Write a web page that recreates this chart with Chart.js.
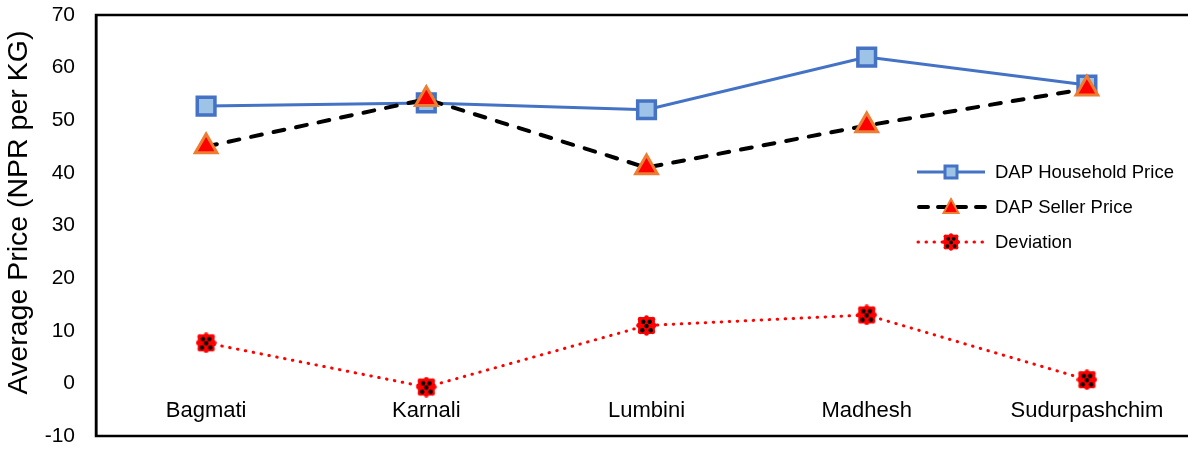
<!DOCTYPE html>
<html>
<head>
<meta charset="utf-8">
<script src="https://cdn.jsdelivr.net/npm/chart.js@4/dist/chart.umd.min.js"></script>
<style>
  html, body { margin: 0; padding: 0; background: #fff; overflow: hidden; }
  #wrap { width: 1188px; height: 449px; position: relative; overflow: hidden; }
  #c { display: block; }
</style>
</head>
<body>
<div id="wrap"><canvas id="c" width="1200" height="449"></canvas></div>
<script>
// Average DAP fertilizer prices by province (NPR per KG)
const provinces = ['Bagmati', 'Karnali', 'Lumbini', 'Madhesh', 'Sudurpashchim'];
const householdPrice = [52.7, 53.3, 52.0, 62.0, 56.7];
const sellerPrice = [45.0, 54.0, 41.0, 49.0, 56.0];
const deviation = [7.7, -0.7, 11.0, 13.0, 0.7];
const yTickValues = [-10, 0, 10, 20, 30, 40, 50, 60, 70];
const seriesNames = ['DAP Household Price', 'DAP Seller Price', 'Deviation'];
const yAxisTitle = 'Average Price (NPR per KG)';

const FONT = "'Liberation Sans', Arial, sans-serif";

// Red blotch with black dots used as the Deviation marker
function makeDeviationMarker(size) {
  const cv = document.createElement('canvas');
  cv.width = size; cv.height = size;
  const g = cv.getContext('2d');
  const s = size / 20;
  g.fillStyle = '#ff0000';
  g.beginPath();
  g.roundRect(2 * s, 2 * s, 16 * s, 16 * s, 4 * s);
  g.fill();
  const bumps = [[4,4],[10,2.5],[16,4],[17.5,10],[16,16],[10,17.5],[4,16],[2.5,10]];
  bumps.forEach(([x, y]) => { g.beginPath(); g.arc(x * s, y * s, 2.3 * s, 0, Math.PI * 2); g.fill(); });
  g.fillStyle = '#000';
  [[7,6.5],[13,6.5],[10,10.5],[6,14.5],[14,14.5]].forEach(([x, y]) => {
    g.beginPath(); g.arc(x * s, y * s, 2.1 * s, 0, Math.PI * 2); g.fill();
  });
  return cv;
}
const devMarker = makeDeviationMarker(21);
const devMarkerSmall = makeDeviationMarker(18);

// Plot-area frame (top, left, bottom; right edge sits past the visible page)
const framePlugin = {
  id: 'frame',
  beforeDatasetsDraw(chart) {
    const { ctx, chartArea: a } = chart;
    ctx.save();
    ctx.strokeStyle = '#000';
    ctx.lineWidth = 2.5;
    ctx.strokeRect(a.left, a.top, a.right - a.left, a.bottom - a.top);
    ctx.restore();
  }
};

// Rotated value-axis title, sitting a little above the plot's centre line
const axisTitlePlugin = {
  id: 'axisTitle',
  afterDraw(chart) {
    const { ctx, chartArea: a } = chart;
    ctx.save();
    ctx.translate(19, (a.top + a.bottom) / 2 - 13);
    ctx.rotate(-Math.PI / 2);
    ctx.fillStyle = '#000';
    ctx.font = '28.5px ' + FONT;
    ctx.textAlign = 'center';
    ctx.textBaseline = 'middle';
    ctx.fillText(yAxisTitle, 0, 0);
    ctx.restore();
  }
};

// Legend drawn inside the plot area
const insideLegend = {
  id: 'insideLegend',
  afterDraw(chart) {
    const { ctx } = chart;
    const x0 = 917, x1 = 985, xm = 951, tx = 995;
    const rows = [172, 207, 242];
    ctx.save();
    // Household
    let y = rows[0];
    ctx.strokeStyle = '#4472c4'; ctx.lineWidth = 3; ctx.setLineDash([]);
    ctx.beginPath(); ctx.moveTo(x0, y); ctx.lineTo(x1, y); ctx.stroke();
    ctx.fillStyle = '#9dc3e6'; ctx.lineWidth = 3;
    ctx.beginPath(); ctx.rect(xm - 6, y - 6, 12, 12); ctx.fill(); ctx.stroke();
    // Seller
    y = rows[1];
    ctx.strokeStyle = '#000'; ctx.lineWidth = 4; ctx.lineCap = 'round';
    ctx.setLineDash([9, 10]);
    ctx.beginPath(); ctx.moveTo(x0 + 2, y); ctx.lineTo(x1, y); ctx.stroke();
    ctx.setLineDash([]); ctx.lineCap = 'butt';
    ctx.fillStyle = '#ff0000'; ctx.strokeStyle = '#ed7d31'; ctx.lineWidth = 2;
    ctx.beginPath(); ctx.moveTo(xm, y - 8); ctx.lineTo(xm + 7.5, y + 6); ctx.lineTo(xm - 7.5, y + 6); ctx.closePath();
    ctx.fill(); ctx.stroke();
    // Deviation
    y = rows[2];
    ctx.strokeStyle = '#ff0000'; ctx.lineWidth = 3; ctx.lineCap = 'round';
    ctx.setLineDash([0.5, 7.5]);
    ctx.beginPath(); ctx.moveTo(x0 + 1, y); ctx.lineTo(x1, y); ctx.stroke();
    ctx.setLineDash([]); ctx.lineCap = 'butt';
    ctx.drawImage(devMarkerSmall, xm - 9, y - 9);
    // Labels
    ctx.fillStyle = '#000';
    ctx.font = '18.5px ' + FONT;
    ctx.textBaseline = 'middle';
    ctx.textAlign = 'left';
    seriesNames.forEach((n, i) => ctx.fillText(n, tx, rows[i] + 1));
    ctx.restore();
  }
};

// Scales keep their own size but add no extra edge padding to the plot area
function noEdgePadding(scale) {
  scale.paddingTop = 0; scale.paddingBottom = 0;
  scale.paddingLeft = 0; scale.paddingRight = 0;
}

new Chart(document.getElementById('c'), {
  type: 'line',
  data: {
    labels: provinces,
    datasets: [
      {
        label: seriesNames[0],
        data: householdPrice,
        borderColor: '#4472c4',
        borderWidth: 3,
        pointStyle: 'rect',
        pointRadius: 12.5,
        pointBorderWidth: 3.5,
        pointBackgroundColor: '#9dc3e6',
        pointBorderColor: '#4472c4',
        tension: 0,
        clip: false,
        order: 2
      },
      {
        label: seriesNames[1],
        data: sellerPrice,
        borderColor: '#000',
        borderWidth: 4,
        borderDash: [11, 12],
        borderCapStyle: 'round',
        pointStyle: 'triangle',
        pointRadius: 12.5,
        pointBorderWidth: 3,
        pointBackgroundColor: '#ff0000',
        pointBorderColor: '#ed7d31',
        tension: 0,
        clip: false,
        order: 1
      },
      {
        label: seriesNames[2],
        data: deviation,
        borderColor: '#ff0000',
        borderWidth: 3,
        borderDash: [0.5, 7.5],
        borderCapStyle: 'round',
        pointStyle: devMarker,
        pointRadius: 10,
        tension: 0,
        clip: false,
        order: 0
      }
    ]
  },
  options: {
    responsive: false,
    animation: false,
    devicePixelRatio: 1,
    layout: { autoPadding: false, padding: { left: 0, top: 15, right: 3, bottom: 13 } },
    plugins: { legend: { display: false }, tooltip: { enabled: false } },
    scales: {
      x: {
        type: 'category',
        position: { y: 0 },
        offset: true,
        grid: { display: false, drawTicks: false },
        border: { display: false },
        ticks: {
          color: '#000',
          font: { family: FONT, size: 22 },
          padding: 14,
          maxRotation: 0,
          autoSkip: false
        },
        afterFit: noEdgePadding
      },
      y: {
        position: 'left',
        min: -10,
        max: 70,
        afterBuildTicks(scale) { scale.ticks = yTickValues.map(v => ({ value: v })); },
        grid: { display: false, drawTicks: false },
        border: { display: true, color: '#000', width: 2.5 },
        ticks: {
          color: '#000',
          font: { family: FONT, size: 21 },
          padding: 21
        },
        afterFit(scale) { scale.width = 96; noEdgePadding(scale); }
      }
    }
  },
  plugins: [framePlugin, axisTitlePlugin, insideLegend]
});
</script>
</body>
</html>
